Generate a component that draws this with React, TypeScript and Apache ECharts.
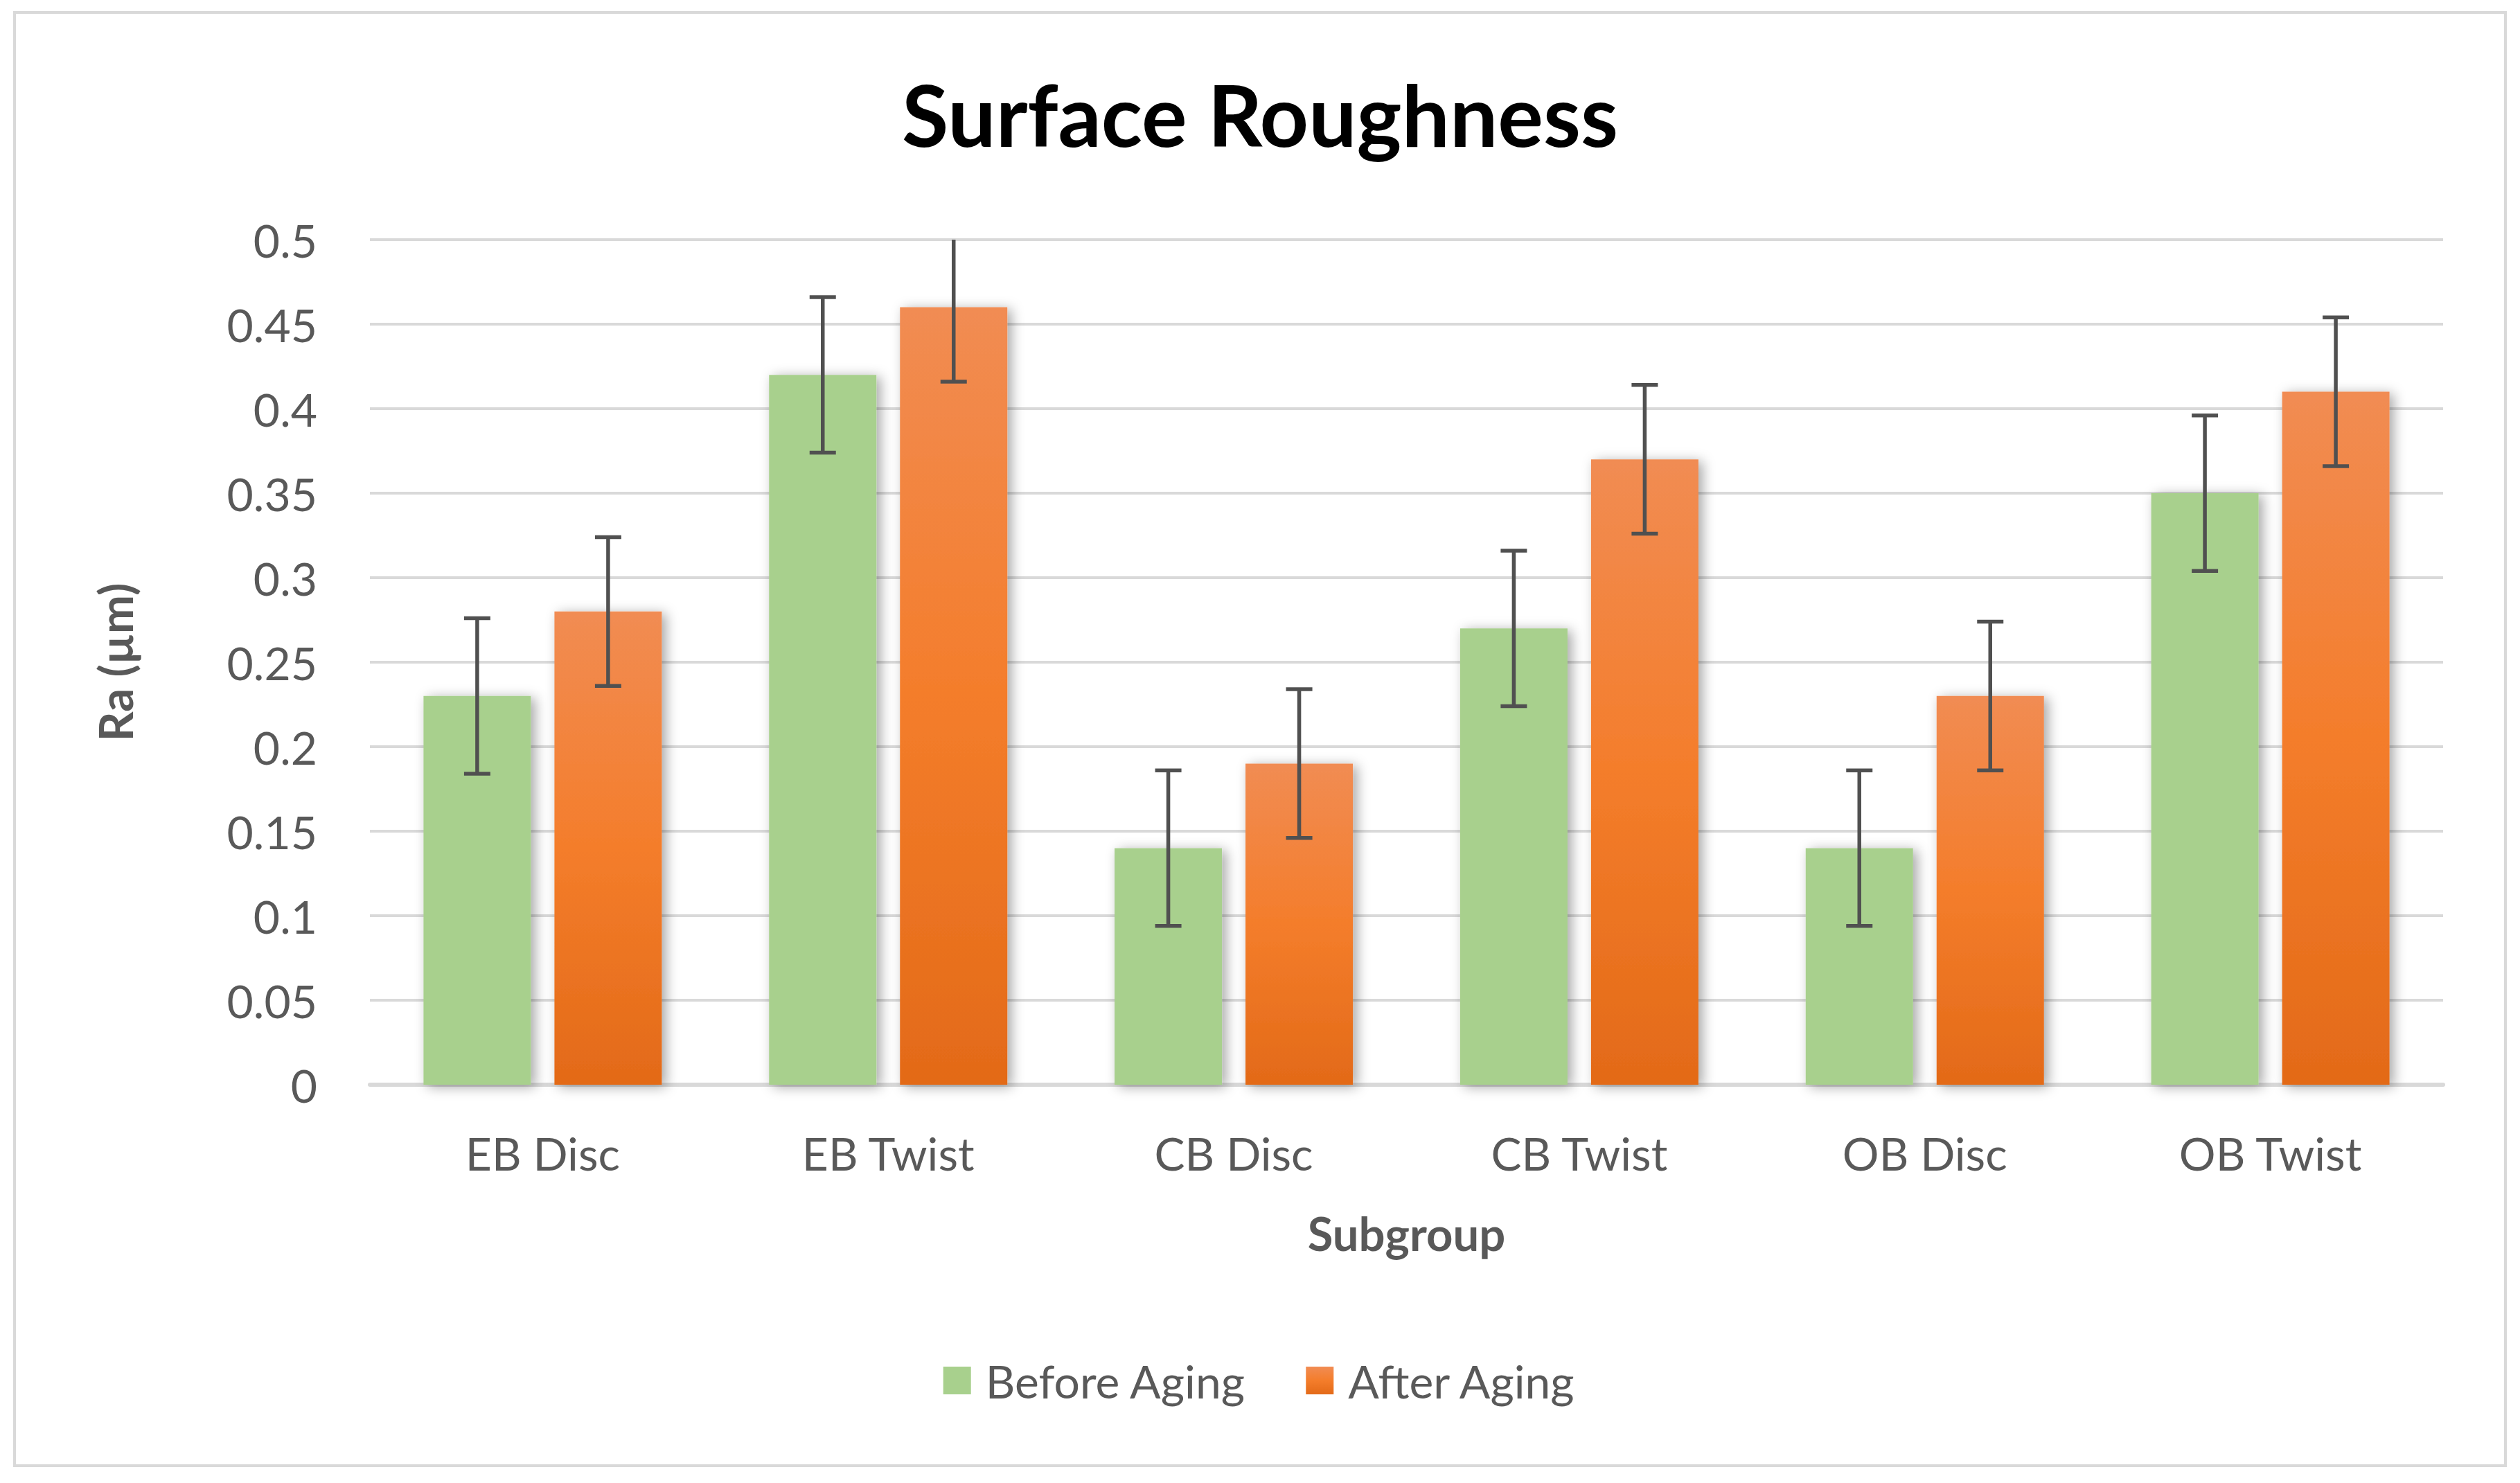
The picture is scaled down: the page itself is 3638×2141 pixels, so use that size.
import React, { useEffect, useRef } from "react";
import * as echarts from "echarts";

const categories = ["EB Disc", "EB Twist", "CB Disc", "CB Twist", "OB Disc", "OB Twist"];
const beforeAging = [0.23, 0.42, 0.14, 0.27, 0.14, 0.35];
const afterAging = [0.28, 0.46, 0.19, 0.37, 0.23, 0.41];
const beforeErr = [0.046, 0.046, 0.046, 0.046, 0.046, 0.046];
const afterErr = [0.044, 0.044, 0.044, 0.044, 0.044, 0.044];
const seriesNames = ["Before Aging", "After Aging"];

const FONT = "Lato, 'Open Sans', sans-serif";
const TEXT = "#595959";
const BAR_W = 155;
const BAR_GAP_PX = 34;
const Y_MAX = 0.5;

export default function App() {
  const ref = useRef<HTMLDivElement>(null);
  useEffect(() => {
    if (!ref.current) return;
    const chart = echarts.init(ref.current, undefined, { renderer: "svg" });
    const offset = (BAR_W + BAR_GAP_PX) / 2;
    const errSeries = (vals: number[], errs: number[], dx: number) => ({
      type: "custom",
      silent: true,
      z: 10,
      encode: { x: 0, y: 1 },
      data: vals.map((v, i) => [i, v, errs[i]]),
      renderItem: (params: any, api: any) => {
        const cat = api.value(0);
        const v = api.value(1);
        const e = api.value(2);
        const x = api.coord([cat, 0])[0] + dx;
        const upV = Math.min(v + e, Y_MAX);
        const yUp = api.coord([cat, upV])[1];
        const yLo = api.coord([cat, v - e])[1];
        const st = { stroke: "#505050", lineWidth: 5.5 };
        const children: any[] = [
          { type: "line", shape: { x1: x, y1: yUp, x2: x, y2: yLo }, style: st },
          { type: "line", shape: { x1: x - 19, y1: yLo, x2: x + 19, y2: yLo }, style: st },
        ];
        if (v + e <= Y_MAX) {
          children.push({ type: "line", shape: { x1: x - 19, y1: yUp, x2: x + 19, y2: yUp }, style: st });
        }
        return { type: "group", children };
      },
    });
    const orangeGrad = new echarts.graphic.LinearGradient(0, 0, 0, 1, [
      { offset: 0, color: "#F18C53" },
      { offset: 0.5, color: "#F47D2B" },
      { offset: 1, color: "#E36A18" },
    ]);
    const shadow = {
      shadowBlur: 18,
      shadowColor: "rgba(0,0,0,0.35)",
      shadowOffsetX: 6,
      shadowOffsetY: 3,
    };
    chart.setOption({
      animation: false,
      backgroundColor: "#ffffff",
      title: {
        text: "Surface Roughness",
        left: "center",
        top: 98,
        textStyle: { fontFamily: FONT, fontSize: 123, fontWeight: "bold", color: "#000000" },
      },
      graphic: [
        {
          type: "rect",
          shape: { x: 21, y: 18, width: 3596, height: 2098 },
          style: { fill: "none", stroke: "#d9d9d9", lineWidth: 4 },
          silent: true,
        },
      ],
      legend: {
        data: seriesNames,
        bottom: 110,
        left: "center",
        itemWidth: 40,
        itemHeight: 40,
        itemGap: 86,
        icon: "rect",
        textStyle: { fontFamily: FONT, fontSize: 66, color: TEXT, padding: [0, 0, 0, 16] },
      },
      grid: { left: 534, right: 111, top: 346, bottom: 575 },
      xAxis: {
        type: "category",
        data: categories,
        name: "Subgroup",
        nameLocation: "middle",
        nameGap: 180,
        nameTextStyle: { fontFamily: FONT, fontSize: 67, fontWeight: "bold", color: TEXT },
        axisLine: { lineStyle: { color: "#d9d9d9", width: 6 } },
        axisTick: { show: false },
        axisLabel: { fontFamily: FONT, fontSize: 66, color: TEXT, margin: 65 },
      },
      yAxis: {
        type: "value",
        min: 0,
        max: Y_MAX,
        interval: 0.05,
        name: "Ra (µm)",
        nameLocation: "middle",
        nameGap: 335,
        nameRotate: 90,
        nameTextStyle: { fontFamily: FONT, fontSize: 67, fontWeight: "bold", color: TEXT },
        axisLine: { show: false },
        axisTick: { show: false },
        splitLine: { lineStyle: { color: "#d9d9d9", width: 4 } },
        axisLabel: {
          fontFamily: FONT,
          fontSize: 66,
          color: TEXT,
          margin: 76,
          formatter: (v: number) => String(Number(v.toFixed(2))),
        },
      },
      series: [
        {
          name: seriesNames[0],
          type: "bar",
          data: beforeAging,
          barWidth: BAR_W,
          barGap: (BAR_GAP_PX / BAR_W) * 100 + "%",
          itemStyle: { color: "#A8D08D", ...shadow },
        },
        {
          name: seriesNames[1],
          type: "bar",
          data: afterAging,
          barWidth: BAR_W,
          itemStyle: { color: orangeGrad, ...shadow },
        },
        errSeries(beforeAging, beforeErr, -offset),
        errSeries(afterAging, afterErr, offset),
      ],
    });
    return () => chart.dispose();
  }, []);
  return (
    <div
      ref={ref}
      style={{ position: "absolute", left: 0, top: 0, width: 3638, height: 2141 }}
    />
  );
}
